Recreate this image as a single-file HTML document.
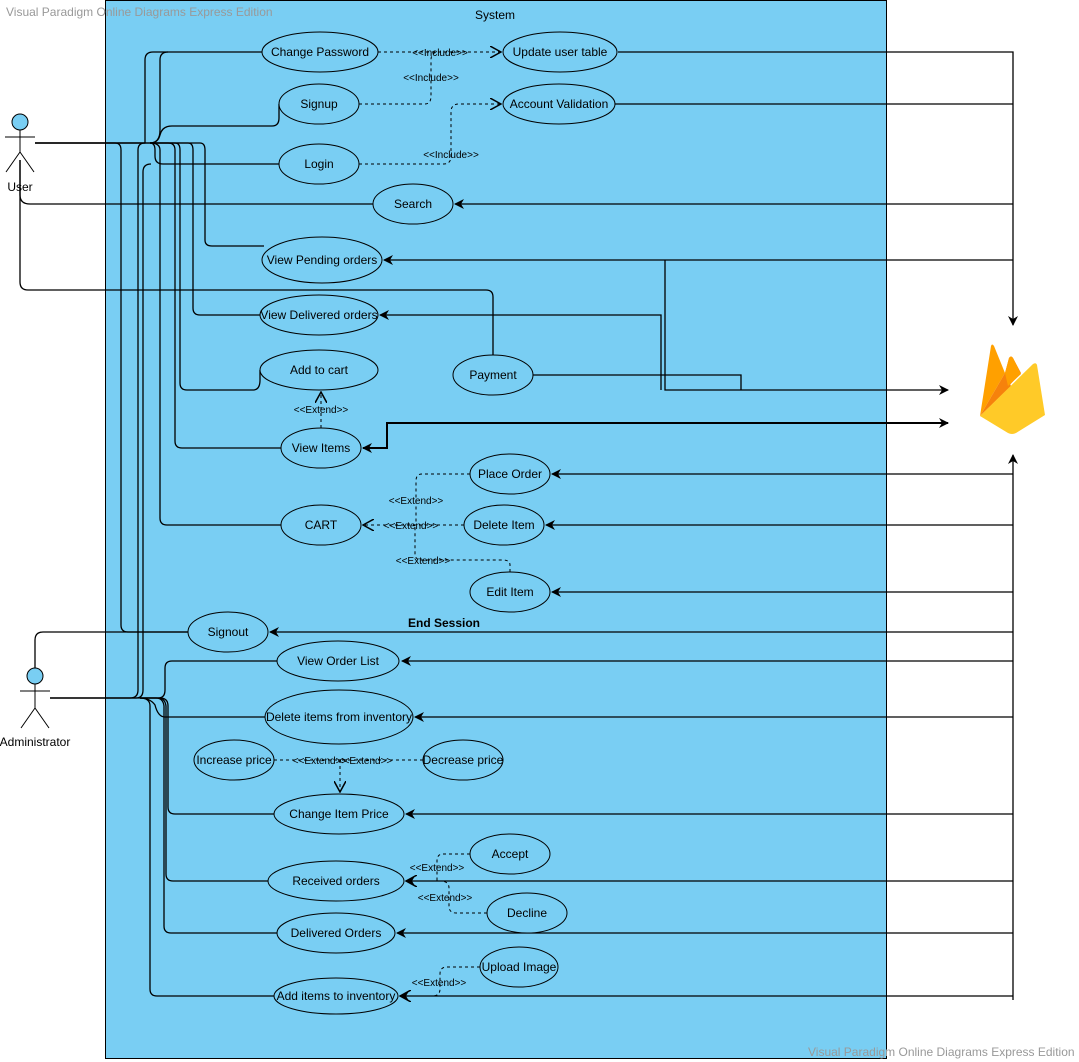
<!DOCTYPE html>
<html><head><meta charset="utf-8"><style>
html,body{margin:0;padding:0;background:#fff;}
svg{display:block;}
text{font-family:"Liberation Sans",sans-serif;font-size:12px;fill:#000;}
.s{font-size:10px;}
</style></head><body>
<svg width="1079" height="1062" viewBox="0 0 1079 1062" xmlns="http://www.w3.org/2000/svg">
<defs>
<marker id="fa" markerWidth="10" markerHeight="10" refX="9" refY="5" orient="auto" markerUnits="userSpaceOnUse"><path d="M0,0 L10,5 L0,10 L3,5 Z" fill="#000"/></marker>
<marker id="fs" markerWidth="10" markerHeight="10" refX="1" refY="5" orient="auto" markerUnits="userSpaceOnUse"><path d="M10,0 L0,5 L10,10 L7,5 Z" fill="#000"/></marker>
<marker id="oa" markerWidth="12" markerHeight="12" refX="11" refY="6" orient="auto" markerUnits="userSpaceOnUse"><path d="M0,0 L11,6 L0,12" fill="none" stroke="#000" stroke-width="1.5"/></marker>
</defs>
<rect x="105.5" y="0.5" width="781" height="1058" fill="#79CEF3" stroke="#000"/>
<text x="6" y="16" style="fill:#999">Visual Paradigm Online Diagrams Express Edition</text>
<text x="808" y="1056" style="fill:#999">Visual Paradigm Online Diagrams Express Edition</text>
<text x="495" y="19" text-anchor="middle">System</text>
<text x="444" y="627" text-anchor="middle" font-weight="bold">End Session</text>

<g fill="none" stroke="#000" stroke-width="1.3">
<path d="M35 143 H145 V60 Q145 52 153 52 H262"/>
<path d="M35 143 H150 Q160 143 160 130 V60 Q160 52 168 52"/>
<path d="M150 143 Q158 143 160 135 Q162 126 172 126 H272 Q279 126 279 118 V104"/>
<path d="M150 143 Q155 143 155 150 V156 Q155 164 163 164 H279"/>
<path d="M35 143 H200 Q205 143 205 150 V240 Q205 246 212 246 H264"/>
<path d="M150 143 H188 Q193 143 193 150 V308 Q193 315 200 315 H260"/>
<path d="M150 143 H175 Q180 143 180 150 V383 Q180 390 187 390 H253 Q260 390 260 380 V370"/>
<path d="M150 143 H168 Q175 143 175 150 V441 Q175 448 182 448 H281"/>
<path d="M150 143 Q160 143 160 150 V518 Q160 525 167 525 H281"/>
<path d="M35 143 H115 Q121 143 121 150 V625 Q121 632 128 632 H188"/>
<path d="M20 160 V195 Q20 204 30 204 H373"/>
<path d="M20 160 V282 Q20 290 28 290 H486 Q493 290 493 297 V355"/>
<path d="M35 668 V640 Q35 632 43 632 H188"/>
<path d="M50 698 H130 Q138 698 138 690 V150 Q138 143 145 143"/>
<path d="M50 698 H136 Q143 698 143 690 V172 Q143 164 151 164"/>
<path d="M50 698 H158 Q165 698 165 690 V668 Q165 661 172 661 H277"/>
<path d="M140 698 Q150 698 155 705 Q158 717 165 717 H265"/>
<path d="M140 698 H160 Q168 698 168 706 V807 Q168 814 175 814 H274"/>
<path d="M140 698 H158 Q165 698 166 706 V874 Q166 881 173 881 H268"/>
<path d="M140 698 H156 Q163 698 164 706 V926 Q164 933 171 933 H277"/>
<path d="M140 698 Q150 698 150 706 V989 Q150 996 157 996 H274"/>
<path d="M618 52 H1013 V325" marker-end="url(#fa)"/>
<path d="M614 104 H1013"/>
<path d="M1013 1000 V455" marker-end="url(#fa)"/>
<path d="M1013 204 H455" marker-end="url(#fa)"/>
<path d="M1013 260 H384" marker-end="url(#fa)"/>
<path d="M1013 474 H552" marker-end="url(#fa)"/>
<path d="M1013 525 H546" marker-end="url(#fa)"/>
<path d="M1013 592 H552" marker-end="url(#fa)"/>
<path d="M1013 632 H270" marker-end="url(#fa)"/>
<path d="M1013 661 H402" marker-end="url(#fa)"/>
<path d="M1013 717 H415" marker-end="url(#fa)"/>
<path d="M1013 814 H406" marker-end="url(#fa)"/>
<path d="M1013 881 H406" marker-end="url(#fa)"/>
<path d="M1013 933 H397" marker-end="url(#fa)"/>
<path d="M1013 996 H400" marker-end="url(#fa)"/>
<path d="M665 260 V390 H948" marker-end="url(#fa)"/>
<path d="M661 390 V315 H380" marker-end="url(#fa)"/>
<path d="M533 375 H741 V390"/>
<path d="M948 423 H387 V448 H363" marker-end="url(#fa)" marker-start="url(#fs)" stroke-width="2"/>
</g>

<g fill="none" stroke="#000" stroke-width="1" stroke-dasharray="3,3">
<path d="M378 52 H501" marker-end="url(#oa)"/>
<path d="M359 104 H425 Q431 104 431 96 V60 Q431 52 439 52"/>
<path d="M359 164 H444 Q451 164 451 156 V112 Q451 104 459 104 H501" marker-end="url(#oa)"/>
<path d="M321 428 V392" marker-end="url(#oa)"/>
<path d="M470 474 H422 Q416 474 416 481 V525"/>
<path d="M464 525 H363" marker-end="url(#oa)"/>
<path d="M510 572 V565 Q510 560 503 560 H421 Q415 560 415 553 V525"/>
<path d="M274 760 H340 V792" marker-end="url(#oa)"/>
<path d="M423 760 H340"/>
<path d="M470 854 H443 Q437 854 437 861 V881 H406" marker-end="url(#oa)"/>
<path d="M487 913 H456 Q449 913 449 906 V888 Q449 881 440 881"/>
<path d="M480 967 H447 Q440 967 440 974 V989 Q440 996 432 996 H400" marker-end="url(#oa)"/>
</g>

<g fill="#79CEF3" stroke="#000" stroke-width="1">
<ellipse cx="320" cy="52" rx="58" ry="20"/>
<ellipse cx="560" cy="52" rx="57" ry="20"/>
<ellipse cx="319" cy="104" rx="40" ry="20"/>
<ellipse cx="559" cy="104" rx="56" ry="20"/>
<ellipse cx="319" cy="164" rx="40" ry="20"/>
<ellipse cx="413" cy="204" rx="40" ry="20"/>
<ellipse cx="322" cy="260" rx="60" ry="23"/>
<ellipse cx="319" cy="315" rx="59" ry="20"/>
<ellipse cx="319" cy="370" rx="59" ry="20"/>
<ellipse cx="493" cy="375" rx="40" ry="20"/>
<ellipse cx="321" cy="448" rx="40" ry="20"/>
<ellipse cx="510" cy="474" rx="40" ry="20"/>
<ellipse cx="321" cy="525" rx="40" ry="20"/>
<ellipse cx="504" cy="525" rx="40" ry="20"/>
<ellipse cx="510" cy="592" rx="40" ry="20"/>
<ellipse cx="228" cy="632" rx="40" ry="20"/>
<ellipse cx="338" cy="661" rx="61" ry="20"/>
<ellipse cx="339" cy="717" rx="74" ry="27"/>
<ellipse cx="234" cy="760" rx="40" ry="20"/>
<ellipse cx="463" cy="760" rx="40" ry="20"/>
<ellipse cx="339" cy="814" rx="65" ry="20"/>
<ellipse cx="510" cy="854" rx="40" ry="20"/>
<ellipse cx="336" cy="881" rx="68" ry="20"/>
<ellipse cx="527" cy="913" rx="40" ry="20"/>
<ellipse cx="336" cy="933" rx="59" ry="20"/>
<ellipse cx="519" cy="967" rx="39" ry="20"/>
<ellipse cx="336" cy="996" rx="62" ry="18"/>
</g>

<g text-anchor="middle">
<text x="320" y="56">Change Password</text>
<text x="560" y="56">Update user table</text>
<text x="319" y="108">Signup</text>
<text x="559" y="108">Account Validation</text>
<text x="319" y="168">Login</text>
<text x="413" y="208">Search</text>
<text x="322" y="264">View Pending orders</text>
<text x="319" y="319">View Delivered orders</text>
<text x="319" y="374">Add to cart</text>
<text x="493" y="379">Payment</text>
<text x="321" y="452">View Items</text>
<text x="510" y="478">Place Order</text>
<text x="321" y="529">CART</text>
<text x="504" y="529">Delete Item</text>
<text x="510" y="596">Edit Item</text>
<text x="228" y="636">Signout</text>
<text x="338" y="665">View Order List</text>
<text x="339" y="721">Delete items from inventory</text>
<text x="234" y="764">Increase price</text>
<text x="463" y="764">Decrease price</text>
<text x="339" y="818">Change Item Price</text>
<text x="510" y="858">Accept</text>
<text x="336" y="885">Received orders</text>
<text x="527" y="917">Decline</text>
<text x="336" y="937">Delivered Orders</text>
<text x="519" y="971">Upload Image</text>
<text x="336" y="1000">Add items to inventory</text>
<text x="20" y="191">User</text>
<text x="35" y="746">Administrator</text>
<text class="s" x="440" y="56">&lt;&lt;Include&gt;&gt;</text>
<text class="s" x="431" y="81">&lt;&lt;Include&gt;&gt;</text>
<text class="s" x="451" y="158">&lt;&lt;Include&gt;&gt;</text>
<text class="s" x="321" y="413">&lt;&lt;Extend&gt;&gt;</text>
<text class="s" x="416" y="504">&lt;&lt;Extend&gt;&gt;</text>
<text class="s" x="411" y="529">&lt;&lt;Extend&gt;&gt;</text>
<text class="s" x="423" y="564">&lt;&lt;Extend&gt;&gt;</text>
<text class="s" x="320" y="764">&lt;&lt;Extend&gt;&gt;</text>
<text class="s" x="365" y="764">&lt;&lt;Extend&gt;&gt;</text>
<text class="s" x="437" y="871">&lt;&lt;Extend&gt;&gt;</text>
<text class="s" x="445" y="901">&lt;&lt;Extend&gt;&gt;</text>
<text class="s" x="439" y="986">&lt;&lt;Extend&gt;&gt;</text>
</g>

<g fill="none" stroke="#000" stroke-width="1">
<circle cx="20" cy="122" r="8" fill="#79CEF3"/>
<path d="M20 130 V152 M5 137 H35 M20 152 L6 172 M20 152 L34 172"/>
<circle cx="35" cy="676" r="8" fill="#79CEF3"/>
<path d="M35 684 V708 M20 691 H50 M35 708 L21 728 M35 708 L49 728"/>
</g>

<g>
<path d="M980 416 L991 346 Q992 343 994 346 L1005 373 Z" fill="#FFA000"/>
<path d="M1005 373 L1009 358 Q1011 355 1013 358 L1021 373 L990 406 Z" fill="#F6820C"/>
<path d="M980 416 L1005 373 L1011 386 Z" fill="#F6820C"/>
<path d="M1005 373 L1009 358 Q1011 355 1013 358 L1021 374 L1008 386 Z" fill="#FFA000"/>
<path d="M980 416 L1033 364 Q1036 362 1037 365 L1045 415 L1016 433 Q1012 435 1008 433 Z" fill="#FFCA28"/>
</g>
</svg>
</body></html>
